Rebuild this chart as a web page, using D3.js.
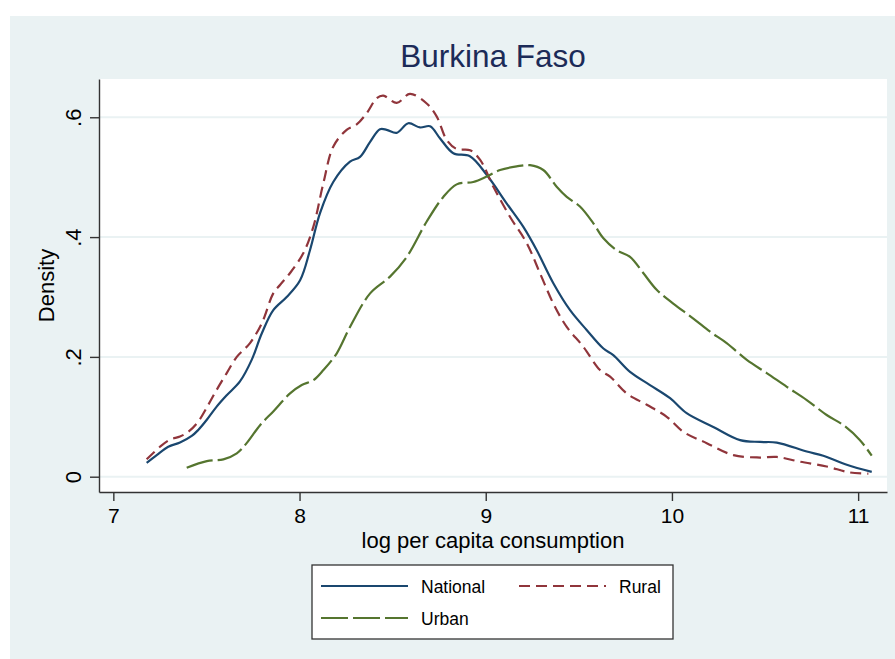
<!DOCTYPE html>
<html>
<head>
<meta charset="utf-8">
<script src="https://cdn.jsdelivr.net/npm/d3@7/dist/d3.min.js"></script>
<style>
  body { margin: 0; background: #ffffff; }
  text { font-family: "Liberation Sans", Arial, sans-serif; }
</style>
</head>
<body>
<div class="chart"></div>
<script>
// density estimates
const xNational = [7.179, 7.233, 7.295, 7.358, 7.421, 7.456, 7.502, 7.555, 7.609, 7.680, 7.743, 7.797, 7.859, 7.931, 8.003, 8.056, 8.110, 8.181, 8.271, 8.325, 8.379, 8.432, 8.468, 8.522, 8.584, 8.647, 8.701, 8.754, 8.826, 8.915, 9.005, 9.113, 9.202, 9.274, 9.363, 9.453, 9.542, 9.632, 9.685, 9.775, 9.882, 9.990, 10.079, 10.222, 10.366, 10.473, 10.563, 10.724, 10.813, 10.939, 11.073];
const yNational = [0.023, 0.036, 0.050, 0.057, 0.068, 0.078, 0.095, 0.117, 0.136, 0.159, 0.195, 0.239, 0.278, 0.300, 0.328, 0.378, 0.440, 0.492, 0.526, 0.534, 0.559, 0.580, 0.579, 0.574, 0.590, 0.583, 0.585, 0.565, 0.540, 0.535, 0.504, 0.456, 0.417, 0.378, 0.323, 0.278, 0.245, 0.214, 0.203, 0.175, 0.153, 0.131, 0.106, 0.083, 0.061, 0.058, 0.057, 0.042, 0.035, 0.020, 0.008];

const xRural = [7.179, 7.251, 7.305, 7.358, 7.403, 7.456, 7.510, 7.555, 7.609, 7.663, 7.734, 7.797, 7.859, 7.895, 7.949, 8.020, 8.074, 8.128, 8.181, 8.253, 8.307, 8.361, 8.415, 8.450, 8.522, 8.593, 8.683, 8.737, 8.791, 8.844, 8.916, 8.970, 9.041, 9.130, 9.220, 9.291, 9.363, 9.435, 9.524, 9.614, 9.668, 9.757, 9.865, 9.972, 10.061, 10.187, 10.330, 10.473, 10.563, 10.688, 10.831, 10.957, 11.055];
const yRural = [0.029, 0.050, 0.062, 0.067, 0.075, 0.092, 0.120, 0.145, 0.173, 0.200, 0.223, 0.256, 0.306, 0.320, 0.340, 0.373, 0.417, 0.490, 0.551, 0.579, 0.588, 0.607, 0.632, 0.636, 0.624, 0.639, 0.623, 0.601, 0.562, 0.547, 0.545, 0.529, 0.484, 0.434, 0.390, 0.340, 0.289, 0.250, 0.217, 0.178, 0.167, 0.139, 0.120, 0.100, 0.075, 0.056, 0.036, 0.032, 0.033, 0.025, 0.017, 0.007, 0.005];

const xUrban = [7.394, 7.502, 7.591, 7.663, 7.716, 7.788, 7.859, 7.949, 8.012, 8.074, 8.128, 8.200, 8.271, 8.379, 8.486, 8.576, 8.683, 8.772, 8.844, 8.933, 9.005, 9.077, 9.166, 9.238, 9.309, 9.381, 9.435, 9.506, 9.578, 9.632, 9.704, 9.775, 9.846, 9.918, 10.007, 10.115, 10.205, 10.294, 10.402, 10.509, 10.617, 10.724, 10.831, 10.921, 11.010, 11.073];
const yUrban = [0.015, 0.026, 0.029, 0.039, 0.056, 0.086, 0.109, 0.139, 0.153, 0.161, 0.178, 0.206, 0.250, 0.306, 0.334, 0.367, 0.426, 0.467, 0.488, 0.492, 0.501, 0.512, 0.518, 0.520, 0.512, 0.484, 0.467, 0.451, 0.423, 0.398, 0.378, 0.367, 0.340, 0.312, 0.289, 0.264, 0.242, 0.223, 0.195, 0.173, 0.150, 0.128, 0.103, 0.086, 0.061, 0.035];

const xTicks = [7, 8, 9, 10, 11];
const yTicks = [0, 0.2, 0.4, 0.6];
const yTickLabels = ["0", ".2", ".4", ".6"];
const seriesNames = ["National", "Rural", "Urban"];

const w = 895;
const h = 659;
const bg = "#eaf2f3";

const series = [
  { name: seriesNames[0], x: xNational, y: yNational, color: "#1a476f", dash: null },
  { name: seriesNames[1], x: xRural, y: yRural, color: "#90353b", dash: "11,6" },
  { name: seriesNames[2], x: xUrban, y: yUrban, color: "#55752f", dash: "27,5" }
];

const xScale = d3.scaleLinear().domain([6.923, 11.155]).range([99, 887]);
const yScale = d3.scaleLinear().domain([-0.02554, 0.6639]).range([492, 79]);

const svg = d3.select(".chart").append("svg").attr("width", w).attr("height", h);

// outer graph region
svg.append("rect").attr("x", 10).attr("y", 16).attr("width", w - 10).attr("height", h - 16).attr("fill", bg);
// plot region
svg.append("rect")
  .attr("x", xScale.range()[0]).attr("y", yScale.range()[1])
  .attr("width", xScale.range()[1] - xScale.range()[0])
  .attr("height", yScale.range()[0] - yScale.range()[1])
  .attr("fill", "#ffffff");

// grid lines
svg.append("g").selectAll("line").data(yTicks).enter().append("line")
  .attr("x1", xScale.range()[0]).attr("x2", xScale.range()[1])
  .attr("y1", (d) => yScale(d)).attr("y2", (d) => yScale(d))
  .attr("stroke", bg).attr("stroke-width", 2);

// density lines
const line = d3.line()
  .x((d) => xScale(d[0]))
  .y((d) => yScale(d[1]))
  .curve(d3.curveCatmullRom);

series.forEach(function (s) {
  svg.append("path")
    .datum(s.x.map((v, i) => [v, s.y[i]]))
    .attr("d", line)
    .attr("fill", "none")
    .attr("stroke", s.color)
    .attr("stroke-width", 2.2)
    .attr("stroke-dasharray", s.dash);
});

// axes
const xAxis = d3.axisBottom(xScale).tickValues(xTicks).tickSize(9).tickSizeOuter(0).tickPadding(7).tickFormat(d3.format("d"));
const yAxis = d3.axisLeft(yScale).tickValues(yTicks).tickSize(9).tickSizeOuter(0).tickFormat((d, i) => yTickLabels[i]);

const gx = svg.append("g").attr("transform", "translate(0," + yScale.range()[0] + ")").call(xAxis);
gx.selectAll("text").style("font-size", "21px").attr("fill", "#000").attr("dy", "0.71em");

const gy = svg.append("g").attr("transform", "translate(" + xScale.range()[0] + ",0)").call(yAxis);
gy.selectAll("text").remove();
gy.selectAll(".tick").append("text")
  .attr("transform", "translate(-18,0) rotate(-90)")
  .attr("text-anchor", "middle")
  .attr("fill", "#000")
  .style("font-size", "22px")
  .text((d, i) => yTickLabels[i]);

[gx, gy].forEach(function (g) {
  g.selectAll("path, line").attr("stroke", "#333").attr("stroke-width", 1.4);
});

// titles
svg.append("text").attr("x", 493).attr("y", 67).attr("text-anchor", "middle")
  .style("font-size", "31.5px").attr("fill", "#1c2b58").text("Burkina Faso");

svg.append("text").attr("x", 493).attr("y", 548).attr("text-anchor", "middle")
  .style("font-size", "22px").text("log per capita consumption");

svg.append("text").attr("transform", "translate(54," + (79 + 492) / 2 + ") rotate(-90)")
  .attr("text-anchor", "middle").style("font-size", "22px").text("Density");

// legend
const legend = svg.append("g").attr("id", "legend");
legend.append("rect").attr("x", 312).attr("y", 565).attr("width", 361).attr("height", 74)
  .attr("fill", "#ffffff").attr("stroke", "#333").attr("stroke-width", 1.3);

const legendPos = [[321, 586], [519, 586], [321, 618]];
series.forEach(function (s, i) {
  const p = legendPos[i];
  legend.append("line").attr("x1", p[0]).attr("x2", p[0] + 87).attr("y1", p[1]).attr("y2", p[1])
    .attr("stroke", s.color).attr("stroke-width", 2).attr("stroke-dasharray", s.dash);
  legend.append("text").attr("x", p[0] + 100).attr("y", p[1] + 7)
    .style("font-size", "17.5px").text(s.name);
});
</script>
</body>
</html>
